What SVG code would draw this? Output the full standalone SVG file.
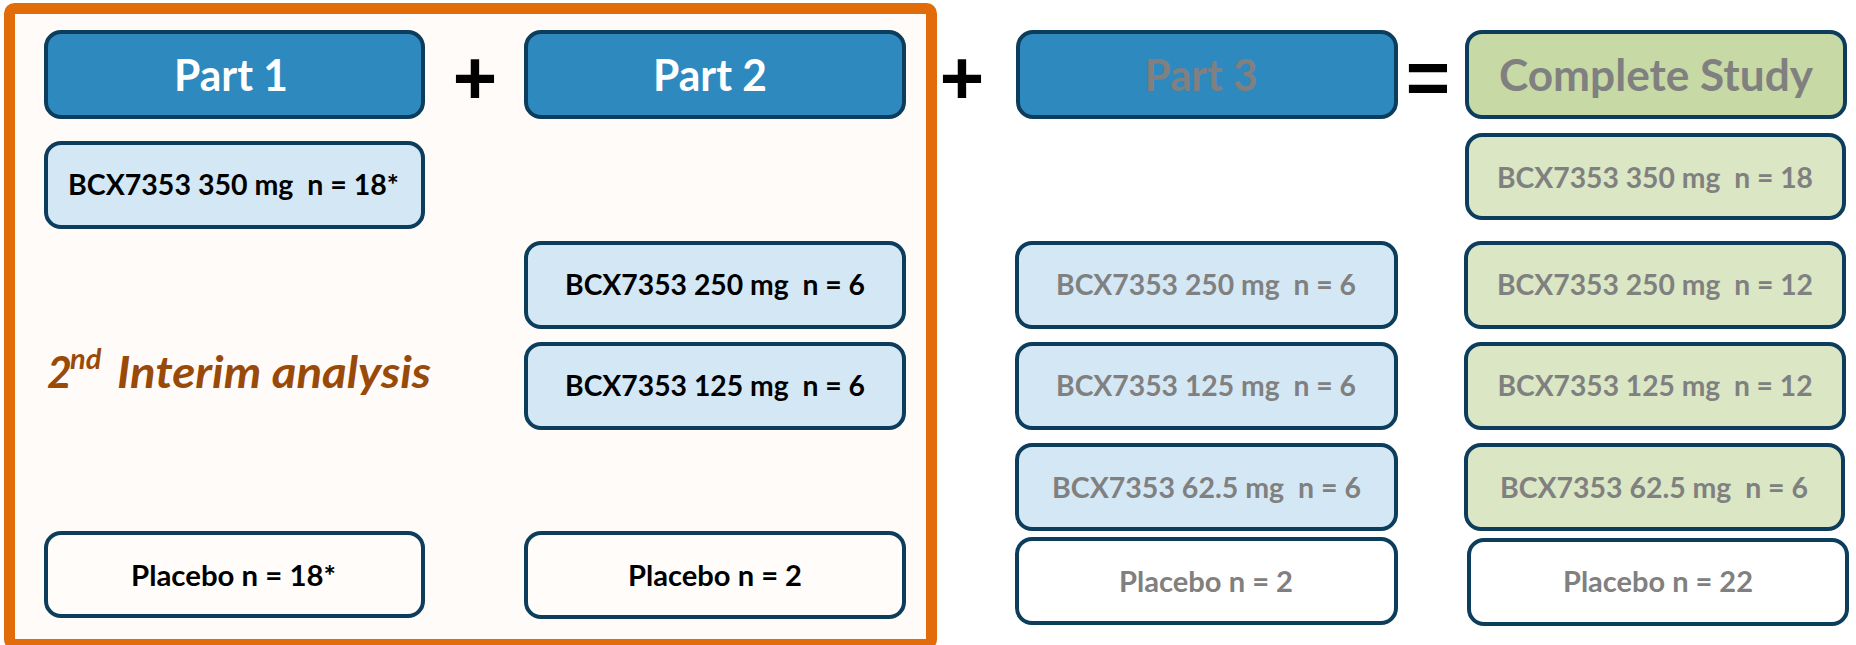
<svg xmlns="http://www.w3.org/2000/svg" width="1856" height="645" viewBox="0 0 1856 645">
<style>
  .hdr { stroke:#0C3D5C; stroke-width:4; }
  .box { stroke:#0C3D5C; stroke-width:4; }
  .blue { fill:#2E89BE; }
  .green { fill:#C7D9A4; }
  .lblue { fill:#D4E7F5; }
  .lgreen { fill:#DAE6C4; }
  .white { fill:#FFFFFF; }
  .offw { fill:#FFFCF9; }
  text { font-family:Lato, "Open Sans", "Liberation Sans", sans-serif; font-weight:bold; text-anchor:middle; white-space:pre; }
  .ht { font-size:43px; }
  .bt { font-size:28px; }
  .k { fill:#000000; }
  .g { fill:#808080; }
  .w { fill:#FFFFFF; }
  .op { font-family:"Liberation Sans", Arial, sans-serif; font-size:76px; fill:#000; }
</style>
<rect x="0" y="0" width="1856" height="645" fill="#FFFFFF"/>
<g id="frame">
  <rect x="9.5" y="8.5" width="922" height="636" rx="5" fill="#FFFBF8" stroke="#E36C0A" stroke-width="11"/>
</g>
<g id="interim">
  <text fill="#9A4A08" style="font-style:italic;text-anchor:start;font-size:43px"><tspan x="47" y="388">2</tspan><tspan x="70" y="369" style="font-size:29px">nd</tspan><tspan x="117" y="388" textLength="314" lengthAdjust="spacingAndGlyphs">Interim analysis</tspan></text>
</g>
<g id="operators">
  <text class="op" x="475" y="104">+</text>
  <text class="op" x="962" y="104">+</text>
  <text class="op" x="1428" y="104">=</text>
</g>
<g id="part1">
  <rect class="hdr blue" x="46" y="32" width="377" height="85" rx="15"/>
  <text class="ht w" x="231" y="91" textLength="114" lengthAdjust="spacingAndGlyphs">Part 1</text>
</g>
<g id="part2">
  <rect class="hdr blue" x="526" y="32" width="378" height="85" rx="15"/>
  <text class="ht w" x="710" y="91" textLength="114" lengthAdjust="spacingAndGlyphs">Part 2</text>
</g>
<g id="part3">
  <rect class="hdr blue" x="1018" y="32" width="378" height="85" rx="15"/>
  <text class="ht g" x="1201" y="91" textLength="113" lengthAdjust="spacingAndGlyphs">Part 3</text>
</g>
<g id="complete">
  <rect class="hdr green" x="1467" y="32" width="378" height="85" rx="15"/>
  <text class="ht g" x="1656" y="91" textLength="314" lengthAdjust="spacingAndGlyphs">Complete Study</text>
</g>
<g id="p1-350">
  <rect class="box lblue" x="46" y="143" width="377" height="84" rx="15"/>
  <text class="bt k" x="233.5" y="195" textLength="331" lengthAdjust="spacingAndGlyphs">BCX7353 350 mg  n = 18*</text>
</g>
<g id="p1-placebo">
  <rect class="box offw" x="46" y="533" width="377" height="83" rx="15"/>
  <text class="bt k" x="233.5" y="586" textLength="205" lengthAdjust="spacingAndGlyphs">Placebo n = 18*</text>
</g>
<g id="p2-250">
  <rect class="box lblue" x="526" y="243" width="378" height="84" rx="15"/>
  <text class="bt k" x="715" y="295" textLength="300" lengthAdjust="spacingAndGlyphs">BCX7353 250 mg  n = 6</text>
</g>
<g id="p2-125">
  <rect class="box lblue" x="526" y="344" width="378" height="84" rx="15"/>
  <text class="bt k" x="715" y="396" textLength="300" lengthAdjust="spacingAndGlyphs">BCX7353 125 mg  n = 6</text>
</g>
<g id="p2-placebo">
  <rect class="box offw" x="526" y="533" width="378" height="84" rx="15"/>
  <text class="bt k" x="715" y="586" textLength="174" lengthAdjust="spacingAndGlyphs">Placebo n = 2</text>
</g>
<g id="p3-250">
  <rect class="box lblue" x="1017" y="243" width="379" height="84" rx="15"/>
  <text class="bt g" x="1206" y="295" textLength="300" lengthAdjust="spacingAndGlyphs">BCX7353 250 mg  n = 6</text>
</g>
<g id="p3-125">
  <rect class="box lblue" x="1017" y="344" width="379" height="84" rx="15"/>
  <text class="bt g" x="1206" y="396" textLength="300" lengthAdjust="spacingAndGlyphs">BCX7353 125 mg  n = 6</text>
</g>
<g id="p3-625">
  <rect class="box lblue" x="1017" y="445" width="379" height="84" rx="15"/>
  <text class="bt g" x="1206.5" y="498" textLength="309" lengthAdjust="spacingAndGlyphs">BCX7353 62.5 mg  n = 6</text>
</g>
<g id="p3-placebo">
  <rect class="box white" x="1017" y="539" width="379" height="84" rx="15"/>
  <text class="bt g" x="1206" y="592" textLength="174" lengthAdjust="spacingAndGlyphs">Placebo n = 2</text>
</g>
<g id="c-350">
  <rect class="box lgreen" x="1467" y="135" width="377" height="83" rx="15"/>
  <text class="bt g" x="1655" y="188" textLength="316" lengthAdjust="spacingAndGlyphs">BCX7353 350 mg  n = 18</text>
</g>
<g id="c-250">
  <rect class="box lgreen" x="1466" y="243" width="378" height="84" rx="15"/>
  <text class="bt g" x="1655" y="295" textLength="316" lengthAdjust="spacingAndGlyphs">BCX7353 250 mg  n = 12</text>
</g>
<g id="c-125">
  <rect class="box lgreen" x="1466" y="344" width="378" height="84" rx="15"/>
  <text class="bt g" x="1655" y="396" textLength="315" lengthAdjust="spacingAndGlyphs">BCX7353 125 mg  n = 12</text>
</g>
<g id="c-625">
  <rect class="box lgreen" x="1466" y="445" width="377" height="84" rx="15"/>
  <text class="bt g" x="1654" y="498" textLength="308" lengthAdjust="spacingAndGlyphs">BCX7353 62.5 mg  n = 6</text>
</g>
<g id="c-placebo">
  <rect class="box white" x="1469" y="540" width="378" height="84" rx="15"/>
  <text class="bt g" x="1658" y="592" textLength="190" lengthAdjust="spacingAndGlyphs">Placebo n = 22</text>
</g>
<g id="connectors"></g>
</svg>
